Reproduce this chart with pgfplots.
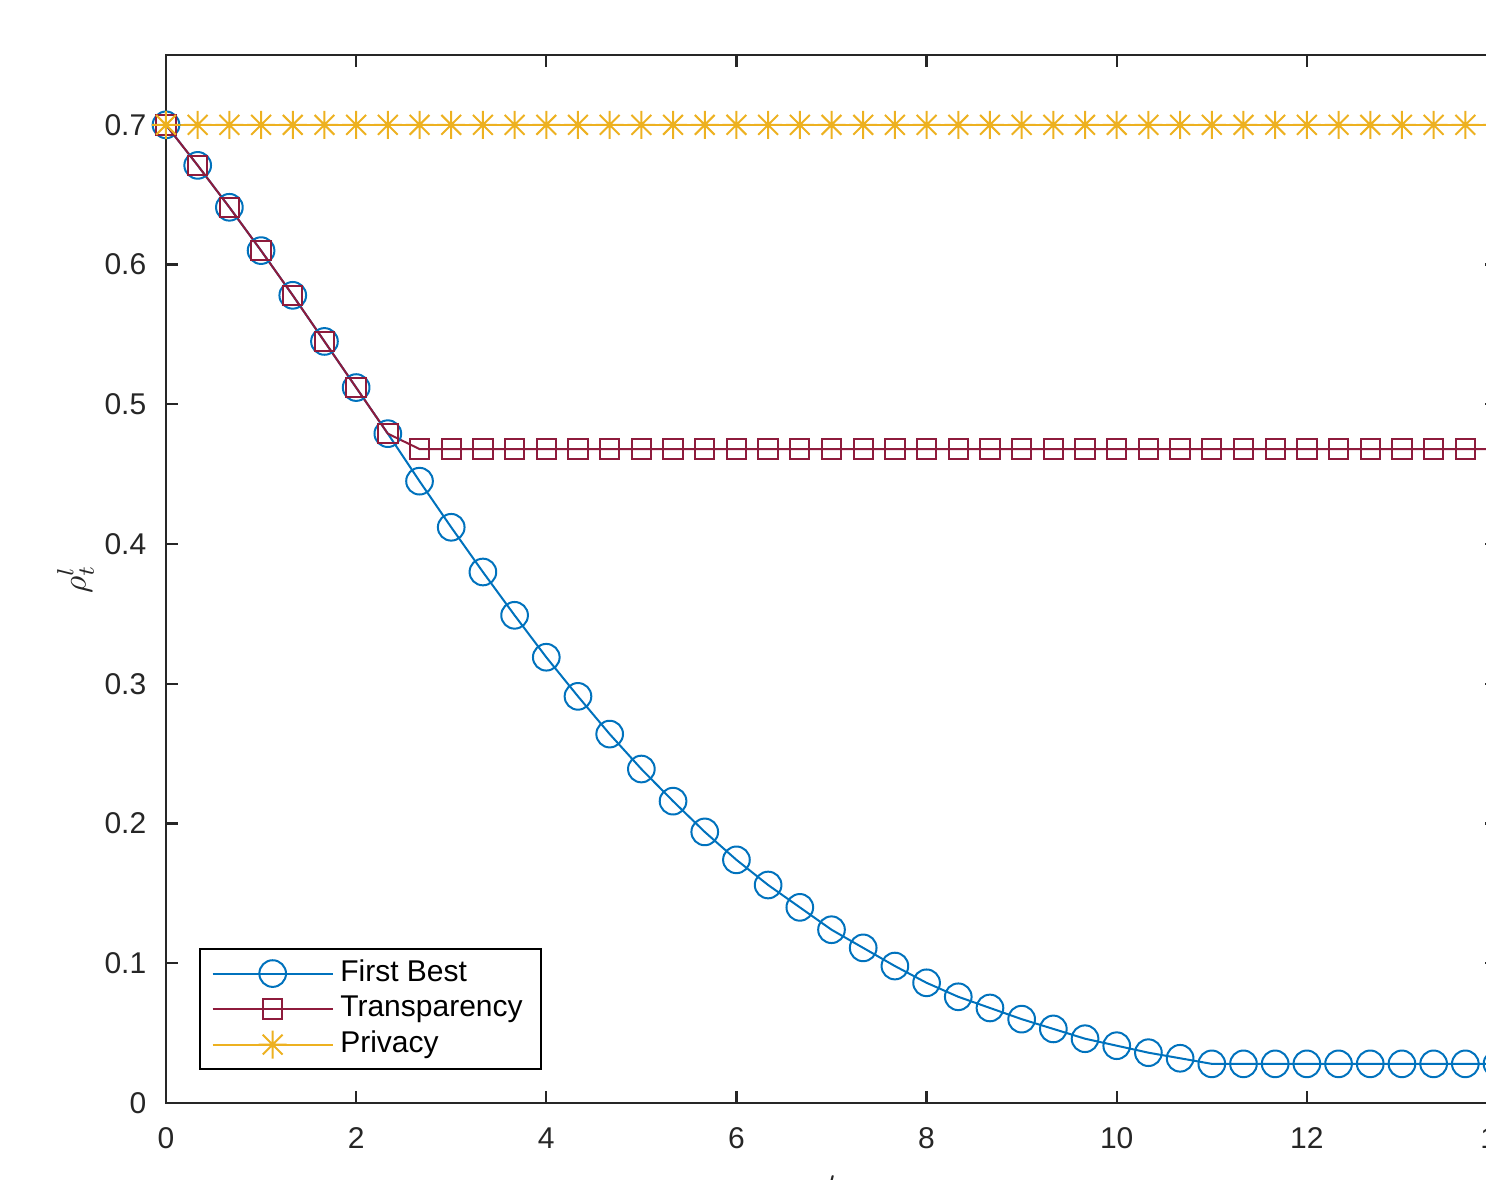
\documentclass[border=0pt]{standalone}
\usepackage{pgfplots}
\pgfplotsset{compat=1.18}
\usepackage{pgfplotstable}
\usepackage{fontspec}
\setmainfont{Liberation Sans}

\definecolor{mblue}{HTML}{0072BD}
\definecolor{mred}{HTML}{8E1B3C}
\definecolor{myellow}{HTML}{EDB120}
\definecolor{mgray}{gray}{0.15}

% MATLAB style '*' marker: plus and cross together
\pgfdeclareplotmark{mstar}{%
  \pgfpathmoveto{\pgfqpoint{0pt}{\pgfplotmarksize}}%
  \pgfpathlineto{\pgfqpoint{0pt}{-\pgfplotmarksize}}%
  \pgfpathmoveto{\pgfqpoint{\pgfplotmarksize}{0pt}}%
  \pgfpathlineto{\pgfqpoint{-\pgfplotmarksize}{0pt}}%
  \pgfpathmoveto{\pgfqpoint{.707\pgfplotmarksize}{.707\pgfplotmarksize}}%
  \pgfpathlineto{\pgfqpoint{-.707\pgfplotmarksize}{-.707\pgfplotmarksize}}%
  \pgfpathmoveto{\pgfqpoint{-.707\pgfplotmarksize}{.707\pgfplotmarksize}}%
  \pgfpathlineto{\pgfqpoint{.707\pgfplotmarksize}{-.707\pgfplotmarksize}}%
  \pgfusepathqstroke}

\pgfplotstableread{
x        fb     tr     pr
0        0.700  0.700  0.7
0.3333   0.671  0.671  0.7
0.6667   0.641  0.641  0.7
1        0.610  0.610  0.7
1.3333   0.578  0.578  0.7
1.6667   0.545  0.545  0.7
2        0.512  0.512  0.7
2.3333   0.479  0.479  0.7
2.6667   0.445  0.468  0.7
3        0.412  0.468  0.7
3.3333   0.380  0.468  0.7
3.6667   0.349  0.468  0.7
4        0.319  0.468  0.7
4.3333   0.291  0.468  0.7
4.6667   0.264  0.468  0.7
5        0.239  0.468  0.7
5.3333   0.216  0.468  0.7
5.6667   0.194  0.468  0.7
6        0.174  0.468  0.7
6.3333   0.156  0.468  0.7
6.6667   0.140  0.468  0.7
7        0.124  0.468  0.7
7.3333   0.111  0.468  0.7
7.6667   0.098  0.468  0.7
8        0.086  0.468  0.7
8.3333   0.076  0.468  0.7
8.6667   0.068  0.468  0.7
9        0.060  0.468  0.7
9.3333   0.053  0.468  0.7
9.6667   0.046  0.468  0.7
10       0.041  0.468  0.7
10.3333  0.036  0.468  0.7
10.6667  0.032  0.468  0.7
11       0.028  0.468  0.7
11.3333  0.028  0.468  0.7
11.6667  0.028  0.468  0.7
12       0.028  0.468  0.7
12.3333  0.028  0.468  0.7
12.6667  0.028  0.468  0.7
13       0.028  0.468  0.7
13.3333  0.028  0.468  0.7
13.6667  0.028  0.468  0.7
14       0.028  0.468  0.7
}\rhodata

\begin{document}
\begin{tikzpicture}
\begin{axis}[
    scale only axis,
    width=399.3pt, height=314.4pt,
    xmin=0, xmax=14, ymin=0, ymax=0.75,
    xtick={0,2,...,14}, ytick={0,0.1,...,0.7},
    tick align=inside,
    major tick length=3.6pt,
    axis line style={line width=0.7pt, black!85},
    every tick/.style={line width=0.7pt, black!85},
    /pgf/number format/assume math mode=true,
    tick label style={font=\fontsize{9}{11}\selectfont, text=mgray},
    yticklabel style={xshift=-2.4pt},
    xticklabel style={yshift=-3.9pt},
    xlabel={$t$},
    xlabel style={at={(axis description cs:0.5,0)}, anchor=north, yshift=-18.3pt, text=mgray},
    ylabel={$\rho_t^l$},
    ylabel style={at={(axis description cs:-0.068,0.5)}, anchor=center, text=mgray},
    legend style={at={(0.0248,0.0315)}, anchor=south west, draw=black, line width=0.6pt,
        font=\fontsize{9}{10.8}\selectfont, inner xsep=3.5pt, inner ysep=1.3pt,
        row sep=-1.2pt},
    legend cell align=left,
    legend image code/.code={\draw[mark repeat=2,mark phase=2,#1]
        plot coordinates {(0pt,0pt) (18pt,0pt) (36pt,0pt)};},
]
\coordinate (LL) at (rel axis cs:0,0);
\coordinate (UR) at (rel axis cs:1,1);
\addplot[mblue, line width=0.6pt, mark=o, mark size=4pt,
    mark options={line width=0.6pt}] table[x=x, y=fb] {\rhodata};
\addplot[mred, line width=0.6pt, mark=square, mark size=2.9pt,
    mark options={line width=0.6pt}] table[x=x, y=tr] {\rhodata};
\addplot[myellow, line width=0.6pt, mark=mstar, mark size=4.2pt,
    mark options={line width=0.6pt}] table[x=x, y=pr] {\rhodata};
\legend{First Best, Transparency, Privacy}
\end{axis}
\pgfresetboundingbox
\path[use as bounding box] ([xshift=-49.8pt, yshift=-23.1pt]LL) rectangle ([xshift=-3.3pt, yshift=16.5pt]UR);
\end{tikzpicture}
\end{document}
